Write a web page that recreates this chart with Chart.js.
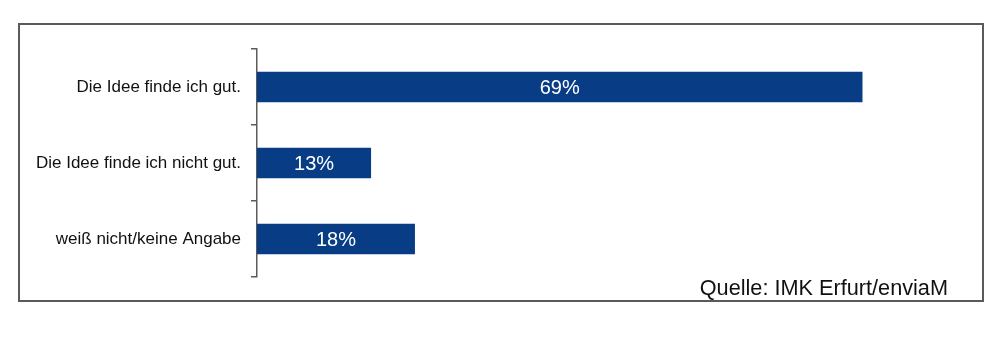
<!DOCTYPE html>
<html>
<head>
<meta charset="utf-8">
<script src="https://cdn.jsdelivr.net/npm/chart.js@4/dist/chart.umd.min.js"></script>
<style>
  html, body { margin: 0; padding: 0; background: #ffffff; }
  #wrap { position: relative; width: 1000px; height: 364px; }
  #frame { position: absolute; left: 18px; top: 23px; width: 962px; height: 275px; border: 2px solid #5c5a58; box-sizing: content-box; }
  #src { position: absolute; right: 52px; top: 275px; font-family: "Liberation Sans", Arial, sans-serif; font-size: 21.7px; line-height: normal; color: #111; white-space: nowrap; }
  canvas { position: absolute; left: 0; top: 0; }
</style>
</head>
<body>
<div id="wrap">
  <div id="frame"></div>
  <canvas id="c" width="1000" height="364"></canvas>
  <div id="src">Quelle: IMK Erfurt/enviaM</div>
</div>
<script>
const categories = ["Die Idee finde ich gut.", "Die Idee finde ich nicht gut.", "weiß nicht/keine Angabe"];
const values = [69, 13, 18];
const valueLabels = ["69%", "13%", "18%"];

const barLabelPlugin = {
  id: 'barLabels',
  afterDatasetsDraw(chart) {
    const ctx = chart.ctx;
    const meta = chart.getDatasetMeta(0);
    ctx.save();
    ctx.fillStyle = '#ffffff';
    ctx.font = '20px "Liberation Sans", Arial, sans-serif';
    ctx.textAlign = 'center';
    ctx.textBaseline = 'middle';
    meta.data.forEach((bar, i) => {
      const cx = (bar.x + bar.base) / 2;
      ctx.fillText(valueLabels[i], cx, bar.y + 1);
    });
    ctx.restore();
  }
};

new Chart(document.getElementById('c'), {
  type: 'bar',
  data: {
    labels: categories,
    datasets: [{
      data: values,
      backgroundColor: '#083d86',
      borderWidth: 0,
      categoryPercentage: 1.0,
      barPercentage: 0.4
    }]
  },
  options: {
    indexAxis: 'y',
    responsive: false,
    animation: false,
    devicePixelRatio: 1,
    layout: { padding: { left: 0, right: 41, top: 49, bottom: 87 } },
    plugins: { legend: { display: false }, tooltip: { enabled: false } },
    scales: {
      x: { min: 0, max: 80, display: false },
      y: {
        afterFit(scale) { scale.width = 257; },
        border: { display: true, color: '#5c5a58', width: 1.5 },
        grid: { drawOnChartArea: false, drawTicks: true, tickLength: 6, color: '#5c5a58', lineWidth: 1.5, offset: true },
        ticks: { color: '#111111', padding: 10, font: { family: '"Liberation Sans", Arial, sans-serif', size: 17 } }
      }
    }
  },
  plugins: [barLabelPlugin]
});
</script>
</body>
</html>
